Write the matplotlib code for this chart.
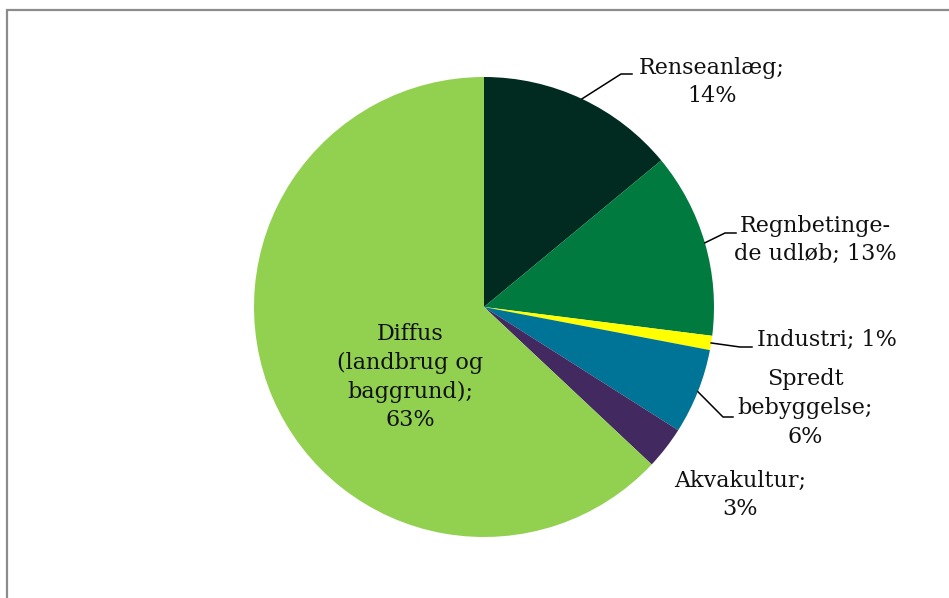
import numpy as np
import matplotlib.pyplot as plt
from matplotlib.patches import Rectangle

labels = ["Renseanlæg;\n14%", "Regnbetinge-\nde udløb; 13%", "Industri; 1%",
          "Spredt\nbebyggelse;\n6%", "Akvakultur;\n3%", "Diffus\n(landbrug og\nbaggrund);\n63%"]
values = [14, 13, 1, 6, 3, 63]
farver = ["#012a21", "#007a3e", "#ffff00", "#007496", "#422960", "#92d050"]

W, H = 949, 598
fig = plt.figure(figsize=(W / 100, H / 100), dpi=100)
ax = fig.add_axes([0, 0, 1, 1])

# grå ramme (kun venstre og top synlig)
fig.patches.append(Rectangle((7 / W, -0.1), 1.2, (H - 10) / H + 0.1, transform=fig.transFigure,
                             fill=False, edgecolor='#8c8c8c', linewidth=1.6))

cx, cy, r = 484, H - 307, 230
wedges, _ = ax.pie(values, colors=farver, startangle=90, counterclock=False,
                   center=(cx, cy), radius=r, wedgeprops=dict(linewidth=0),
                   frame=True)
ax.set_xlim(0, W)
ax.set_ylim(0, H)
ax.set_aspect('equal')
ax.axis('off')

font = dict(family='DejaVu Serif', fontsize=16, color='#111111', ha='center', va='center',
            linespacing=1.4)

# label positioner (px) og knækpunkter for streger
pos = [(712, 82), (815, 240), (827, 340), (805, 408), (740, 495), (410, 377)]
elbow = [[(621, 74), (632, 74)], [(725, 233), (736, 233)], [(740, 347), (752, 347)],
         [(723, 417), (733, 417)], None, None]

cum = np.cumsum([0] + values)
for i, lab in enumerate(labels):
    x, y = pos[i]
    ax.text(x, H - y, lab, **font)
    if elbow[i] is not None:
        mid = (cum[i] + cum[i + 1]) / 2 / sum(values) * 2 * np.pi
        sx = cx + r * np.sin(mid)
        sy = cy + r * np.cos(mid)
        px = [sx] + [p[0] for p in elbow[i]]
        py = [sy] + [H - p[1] for p in elbow[i]]
        ax.plot(px, py, color='black', linewidth=1.1)

plt.savefig('out.png', dpi=100, facecolor='white')
